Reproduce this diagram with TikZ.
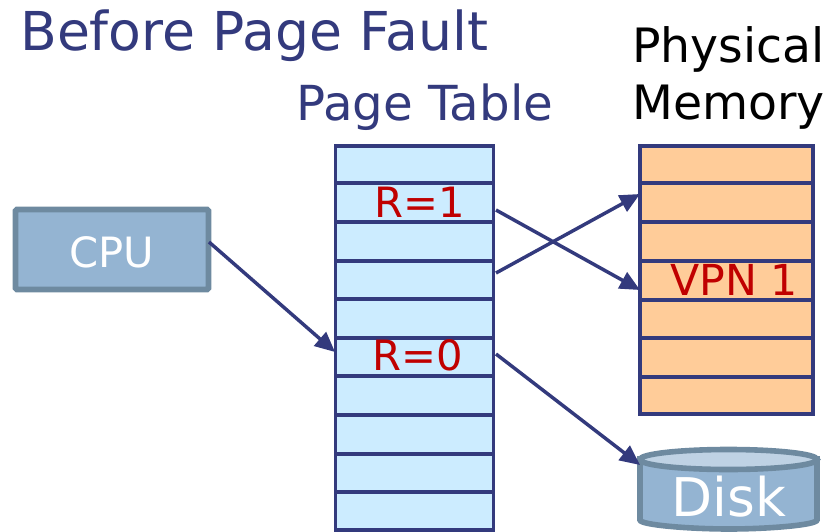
\documentclass[tikz,border=0pt]{standalone}
\usepackage{fontspec}
\setmainfont{DejaVu Sans}
\usetikzlibrary{arrows.meta,shapes.geometric}
\definecolor{navy}{HTML}{333A7D}
\definecolor{redtxt}{HTML}{C00000}
\definecolor{tablefill}{HTML}{CCECFF}
\definecolor{memfill}{HTML}{FFCC99}
\definecolor{boxfill}{HTML}{94B4D2}
\definecolor{boxline}{HTML}{6E8AA0}
\definecolor{disktop}{HTML}{BFD2E4}
\newcommand{\pxfont}[1]{\fontsize{#1}{#1}\selectfont}
\tikzset{
  x=0.75pt,y=-0.75pt,
  cell/.style={draw=navy,line width=2.6pt,inner sep=0,outer sep=0,anchor=north west},
  tablecell/.style={cell,fill=tablefill,minimum width=118.5pt},
  memcell/.style={cell,fill=memfill,minimum width=129.75pt},
  link/.style={draw=navy,line width=2.6pt,-{Triangle[length=15pt,width=13.5pt]}},
  heading/.style={text=navy,inner sep=0,anchor=base west},
  black heading/.style={text=black,inner sep=0,anchor=base west},
  redlabel/.style={text=redtxt,inner sep=0,anchor=base west},
  whitelabel/.style={text=white,inner sep=0,anchor=base},
}
\begin{document}
\begin{tikzpicture}
\useasboundingbox (0,0) rectangle (840,532);
\node[heading,font=\pxfont{40.2pt}] (title) at (20,50) {Before Page Fault};
\node[heading,font=\pxfont{36.2pt}] (pt) at (296,120) {Page Table};
\node[black heading,font=\pxfont{35.5pt}] (pm1) at (632,62) {Physical};
\node[black heading,font=\pxfont{35.5pt}] (pm2) at (632,119) {Memory};
% page table rows
\foreach \i/\a/\b in {1/146/183,2/183/222,3/222/261,4/261/299,5/299/338,6/338/376,7/376/415,8/415/454,9/454/492,10/492/530}{
  \pgfmathsetmacro{\h}{(\b-\a)*0.75}
  \node[tablecell,minimum height=\h pt] (t\i) at (335.5,\a) {};
}
% memory rows
\foreach \i/\a/\b in {1/146/183,2/183/222,3/222/261,4/261/300,5/300/338,6/338/377,7/377/414}{
  \pgfmathsetmacro{\h}{(\b-\a)*0.75}
  \node[memcell,minimum height=\h pt] (m\i) at (640,\a) {};
}
\node[redlabel,font=\pxfont{31.3pt}] (r1) at (374,217) {R=1};
\node[redlabel,font=\pxfont{31.3pt}] (r0) at (372,370) {R=0};
\node[redlabel,font=\pxfont{32pt}] (vpn) at (670,295) {VPN 1};
% CPU
\node[draw=boxline,fill=boxfill,line width=4.2pt,rounded corners=1pt,inner sep=0,outer sep=0,
  minimum width=144.75pt,minimum height=60pt,anchor=north west] (cpu) at (15.5,209.5) {};
\node[whitelabel,font=\pxfont{31.3pt}] (cpulabel) at (111.5,267) {CPU};
% Disk
\path[draw=boxline,fill=boxfill,line width=4.2pt]
  (640,459) -- (640,520) .. controls (640,525) and (690,529) .. (729,529)
  .. controls (768,529) and (817,525) .. (817,520) -- (817,459) -- cycle;
\node[draw=boxline,fill=disktop,line width=4.2pt,shape=ellipse,inner sep=0,outer sep=0,
  minimum width=132.75pt,minimum height=15pt] (disktopn) at (728.5,459.5) {};
\node[whitelabel,font=\pxfont{40pt}] (disk) at (729,516) {Disk};
% connectors
\coordinate (a1) at (209,242);
\coordinate (a1e) at (335,352);
\coordinate (a2) at (496,210);
\coordinate (a2e) at (640,290);
\coordinate (a3) at (496,273);
\coordinate (a3e) at (640,194);
\coordinate (a4) at (496,354);
\coordinate (a4e) at (640,465);
\draw[link] (a1) -- (a1e);
\draw[link] (a2) -- (a2e);
\draw[link] (a3) -- (a3e);
\draw[link] (a4) -- (a4e);
\end{tikzpicture}
\end{document}
